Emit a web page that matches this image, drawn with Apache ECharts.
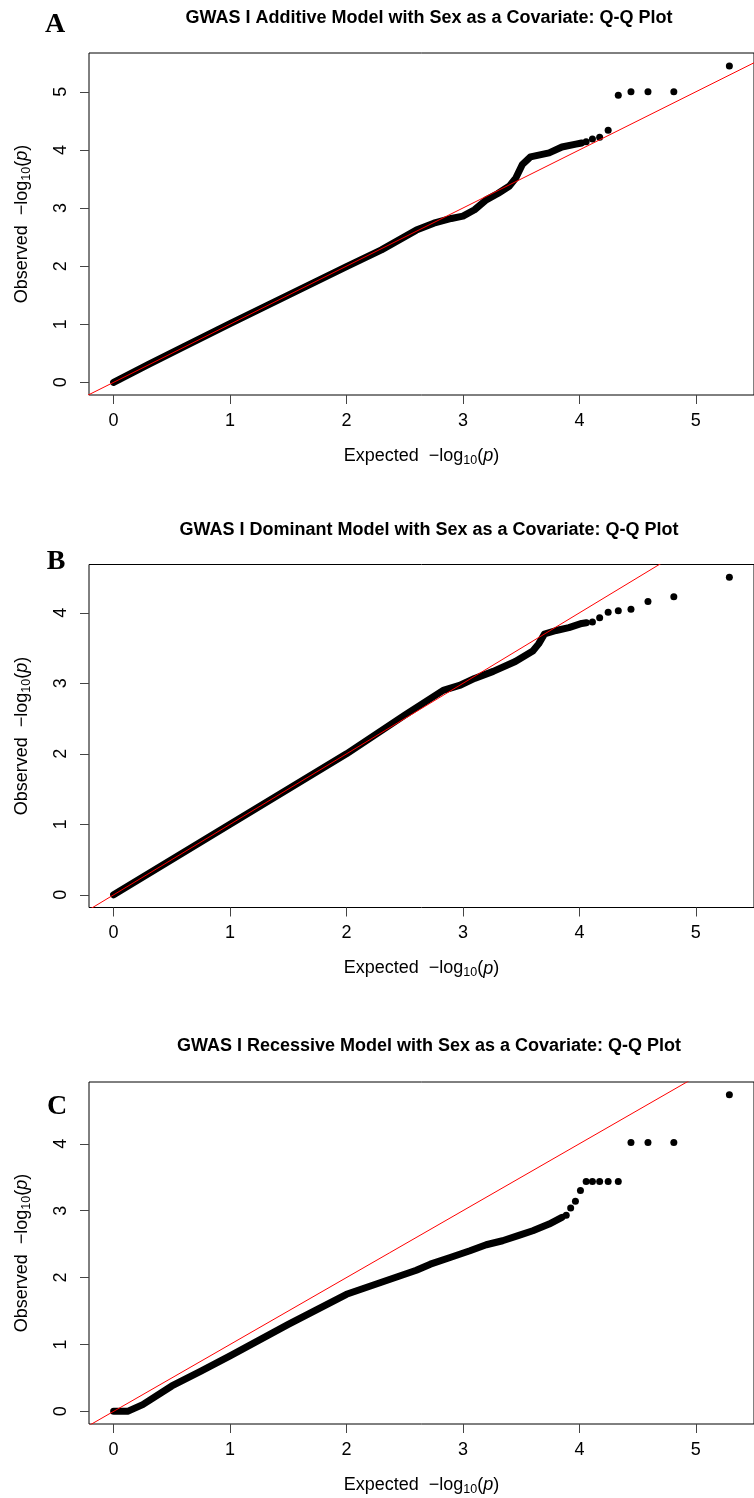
<!DOCTYPE html>
<html>
<head>
<meta charset="utf-8">
<script src="https://cdn.jsdelivr.net/npm/echarts@6/dist/echarts.min.js"></script>
<style>
html,body{margin:0;padding:0;background:#fff;}
#chart{width:754px;height:1498px;}
</style>
</head>
<body>
<div id="chart"></div>
<script>
// ---------- data ----------
const titles = [
  'GWAS I Additive Model with Sex as a Covariate: Q-Q Plot',
  'GWAS I Dominant Model with Sex as a Covariate: Q-Q Plot',
  'GWAS I Recessive Model with Sex as a Covariate: Q-Q Plot'
];
const panelLetters = ['A', 'B', 'C'];
const xTicks = [0, 1, 2, 3, 4, 5];
const yTicksA = [0, 1, 2, 3, 4, 5];
const yTicksB = [0, 1, 2, 3, 4];
const yTicksC = [0, 1, 2, 3, 4];
const xRange = [-0.2115, 5.4995];
const yRangeA = [-0.218, 5.668];
const yRangeB = [-0.180, 4.686];
const yRangeC = [-0.189, 4.923];

// dense part of each Q-Q cloud: [expected, observed]
const bandA = [
  [0.00,0.00],[0.30,0.31],[0.60,0.61],[1.00,1.01],[1.50,1.50],[2.00,1.99],
  [2.30,2.28],[2.60,2.62],[2.75,2.74],[2.90,2.82],[3.00,2.86],[3.10,2.97],
  [3.20,3.14],[3.30,3.25],[3.40,3.38],[3.455,3.52],[3.51,3.75],[3.58,3.88],
  [3.74,3.95],[3.85,4.05],[3.97,4.10],[4.02,4.12]
];
const tailA = [
  [4.058,4.14],[4.112,4.19],[4.174,4.22],[4.247,4.34],[4.334,4.94],
  [4.443,5.00],[4.589,5.00],[4.811,5.00],[5.288,5.446]
];
const bandB = [
  [0.00,0.00],[0.50,0.50],[1.00,1.00],[1.50,1.50],[2.00,2.00],[2.50,2.55],
  [2.83,2.90],[2.97,2.97],[3.10,3.07],[3.26,3.17],[3.45,3.31],[3.60,3.46],
  [3.65,3.56],[3.70,3.70],[3.80,3.75],[3.91,3.79],[4.02,3.85],[4.06,3.86]
];
const tailB = [
  [4.112,3.87],[4.174,3.93],[4.247,4.01],[4.334,4.03],[4.443,4.05],
  [4.589,4.16],[4.811,4.23],[5.288,4.506]
];
const bandC = [
  [0.00,0.00],[0.12,0.00],[0.25,0.10],[0.50,0.38],[0.75,0.60],[1.00,0.83],
  [1.50,1.30],[2.00,1.75],[2.30,1.93],[2.60,2.11],[2.72,2.20],[2.89,2.30],
  [3.06,2.40],[3.20,2.49],[3.34,2.55],[3.48,2.63],[3.60,2.70],[3.74,2.80],
  [3.85,2.90]
];
const tailC = [
  [3.887,2.93],[3.925,3.04],[3.966,3.14],[4.009,3.30],[4.058,3.434],
  [4.112,3.434],[4.174,3.434],[4.247,3.434],[4.334,3.434],[4.443,4.017],
  [4.589,4.017],[4.811,4.017],[5.288,4.734]
];
const identityLine = [[-1,-1],[8,8]];

// ---------- chart ----------
const FONT = '"Liberation Sans", Arial, sans-serif';
const grids = [
  {left: 89, top: 53, width: 671, height: 342},
  {left: 89, top: 564.5, width: 671, height: 343},
  {left: 89, top: 1082, width: 671, height: 342}
];
const yRanges = [yRangeA, yRangeB, yRangeC];
const yTicks = [yTicksA, yTicksB, yTicksC];
const bands = [bandA, bandB, bandC];
const tails = [tailA, tailB, tailC];
const titleY = [4, 516, 1032];
const letterPos = [[55, 25], [56, 562], [57, 1107]];

const nameRich = {
  a: {fontSize: 18, fontFamily: FONT, color: '#000'},
  b: {fontSize: 12.5, fontFamily: FONT, color: '#000', padding: [9, 0, 0, 0]},
  c: {fontSize: 18, fontFamily: FONT, color: '#000', fontStyle: 'italic'}
};

const option = {
  animation: false,
  backgroundColor: '#fff',
  title: [],
  grid: [],
  xAxis: [],
  yAxis: [],
  series: [],
  graphic: []
};

for (let i = 0; i < 3; i++) {
  option.grid.push(Object.assign({show: true, borderColor: '#000', borderWidth: 1, backgroundColor: 'transparent'}, grids[i]));
  option.title.push({
    text: titles[i], left: 424, top: titleY[i], textAlign: 'center',
    textStyle: {fontFamily: FONT, fontWeight: 'bold', fontSize: 18, color: '#000'}
  });
  option.graphic.push({
    type: 'text', x: letterPos[i][0], y: letterPos[i][1],
    style: {text: panelLetters[i], font: 'bold 28px "Liberation Serif", "Times New Roman", serif',
            fill: '#000', align: 'center', verticalAlign: 'middle'}
  });
  option.xAxis.push({
    type: 'value', gridIndex: i, min: xRange[0], max: xRange[1], position: 'bottom',
    axisLine: {show: false, onZero: false},
    splitLine: {show: false},
    axisTick: {show: true, inside: false, length: 9, customValues: xTicks, lineStyle: {color: '#444', width: 1}},
    axisLabel: {show: true, customValues: xTicks, margin: 17, fontFamily: FONT, fontSize: 18, color: '#000'},
    name: '{a|Expected  \u2212log}{b|10}{a|(}{c|p}{a|)}',
    nameLocation: 'middle', nameGap: 50,
    nameTextStyle: {rich: nameRich}
  });
  option.yAxis.push({
    type: 'value', gridIndex: i, min: yRanges[i][0], max: yRanges[i][1], position: 'left',
    axisLine: {show: false, onZero: false},
    splitLine: {show: false},
    axisTick: {show: true, inside: false, length: 9, customValues: yTicks[i], lineStyle: {color: '#444', width: 1}},
    axisLabel: {show: true, customValues: yTicks[i], rotate: 90, margin: 19, fontFamily: FONT, fontSize: 18, color: '#000'},
    name: '{a|Observed  \u2212log}{b|10}{a|(}{c|p}{a|)}',
    nameLocation: 'middle', nameGap: 56,
    nameTextStyle: {rich: nameRich}
  });
  option.series.push({
    type: 'line', xAxisIndex: i, yAxisIndex: i, data: bands[i],
    showSymbol: false, symbol: 'none', smooth: false, silent: true, z: 2,
    lineStyle: {color: '#000', width: 7, cap: 'round', join: 'round'}
  });
  option.series.push({
    type: 'scatter', xAxisIndex: i, yAxisIndex: i, data: tails[i],
    symbol: 'circle', symbolSize: 7, silent: true, z: 3,
    itemStyle: {color: '#000', opacity: 1}
  });
  option.series.push({
    type: 'line', xAxisIndex: i, yAxisIndex: i, data: identityLine,
    showSymbol: false, symbol: 'none', clip: true, silent: true, z: 4,
    lineStyle: {color: '#ff0000', width: 1}
  });
}

const chart = echarts.init(document.getElementById('chart'), null, {renderer: 'canvas'});
chart.setOption(option);
</script>
</body>
</html>
